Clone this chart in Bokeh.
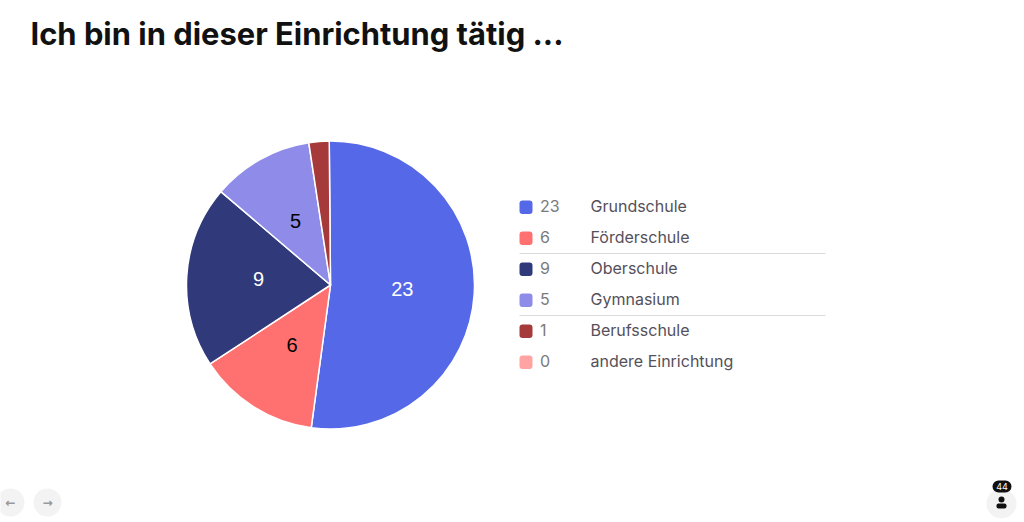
import math
from bokeh.plotting import figure
from bokeh.models import ColumnDataSource, Range1d
from bokeh.core.properties import value
from bokeh.embed import file_html
from bokeh.resources import INLINE

title = "Ich bin in dieser Einrichtung tätig ..."
categories = ["Grundschule", "Förderschule", "Oberschule", "Gymnasium", "Berufsschule", "andere Einrichtung"]
counts = [23, 6, 9, 5, 1, 0]
colors = ["#5569E8", "#FF7171", "#303A7A", "#8E8CE8", "#A63A3A", "#FFA3A3"]
slice_label_colors = ["white", "black", "white", "black", None, None]
respondents = 44

W, H = 1024, 522
def Y(py):
    return H - py

p = figure(width=W, height=H, x_range=Range1d(0, W), y_range=Range1d(0, H),
           output_backend="svg", toolbar_location=None, min_border=0,
           outline_line_color=None, background_fill_color="white", border_fill_color="white")
p.axis.visible = False
p.grid.visible = False

# title
p.text([30], [Y(33)], text=[title], text_font=value("Inter"), text_font_style="bold",
       text_font_size="30.9px", text_color="#111111", text_baseline="middle", text_align="left")

# pie: clockwise from 12 o'clock
cx, cy, R = 330, Y(284.5), 144
total = sum(counts)
angles = [c / total * 2 * math.pi for c in counts]
start, end = [], []
cum = math.radians(-0.5)
for a in angles:
    start.append(math.pi / 2 - cum)
    cum += a
    end.append(math.pi / 2 - cum)
visible = [i for i, c in enumerate(counts) if c > 0]
src = ColumnDataSource(dict(start=[start[i] for i in visible], end=[end[i] for i in visible],
                            color=[colors[i] for i in visible]))
p.wedge(x=cx, y=cy, radius=R, start_angle="start", end_angle="end", direction="clock",
        fill_color="color", line_color="white", line_width=1.5, line_join="round", source=src)

# labels on the slices
lx, ly, lt, lc = [], [], [], []
for s, e, c, col in zip(start, end, counts, slice_label_colors):
    if col is None:
        continue
    m = (s + e) / 2
    lx.append(cx + 0.5 * R * math.cos(m))
    ly.append(cy + 0.5 * R * math.sin(m) + 1)
    lt.append(str(c))
    lc.append(col)
p.text(lx, ly, text=lt, text_color=lc, text_font=value("Liberation Sans"), text_font_size="20px",
       text_align="center", text_baseline="middle")

# legend
row_y = [206 + 31 * i for i in range(len(categories))]
p.quad(left=[519] * 6, right=[532] * 6, top=[Y(y - 6) for y in row_y], bottom=[Y(y + 7.5) for y in row_y],
       fill_color=colors, line_color=None, border_radius=3)
p.text([539.5] * 6, [Y(y - 1) for y in row_y], text=[str(c) for c in counts], text_color="#7a7a7a",
       text_font=value("Inter"), text_font_size="16px", text_baseline="middle")
p.text([590] * 6, [Y(y - 1) for y in row_y], text=categories, text_color="#55505a",
       text_font=value("Inter"), text_font_size="16px", text_baseline="middle")
for sep in (253, 315):
    p.line([519, 825], [Y(sep), Y(sep)], line_color="#d9d9d9", line_width=1)

# navigation buttons
p.scatter([10, 47], [Y(502), Y(502)], size=28, marker="circle", fill_color="#f3f3f3", line_color=None)
p.text([10, 47], [Y(502), Y(502)], text=["←", "→"], text_color="#999999", text_align="center",
       text_baseline="middle", text_font=value("DejaVu Sans"), text_font_size="12px", text_font_style="bold")

# participants
p.scatter([1001], [Y(503)], size=30, marker="circle", fill_color="#f3f3f3", line_color=None)
p.scatter([1001], [Y(499)], size=6, marker="circle", fill_color="#111111", line_color=None)
p.quad(left=[996], right=[1006], top=[Y(503)], bottom=[Y(508)], fill_color="#111111", line_color=None,
       border_radius=2)
p.quad(left=[992], right=[1011], top=[Y(480)], bottom=[Y(492)], fill_color="#111111", line_color=None,
       border_radius=6)
p.text([1001.5], [Y(486)], text=[str(respondents)], text_color="white", text_align="center",
       text_baseline="middle", text_font=value("Inter"), text_font_size="9px")

open("out.html", "w").write(file_html(p, INLINE))
